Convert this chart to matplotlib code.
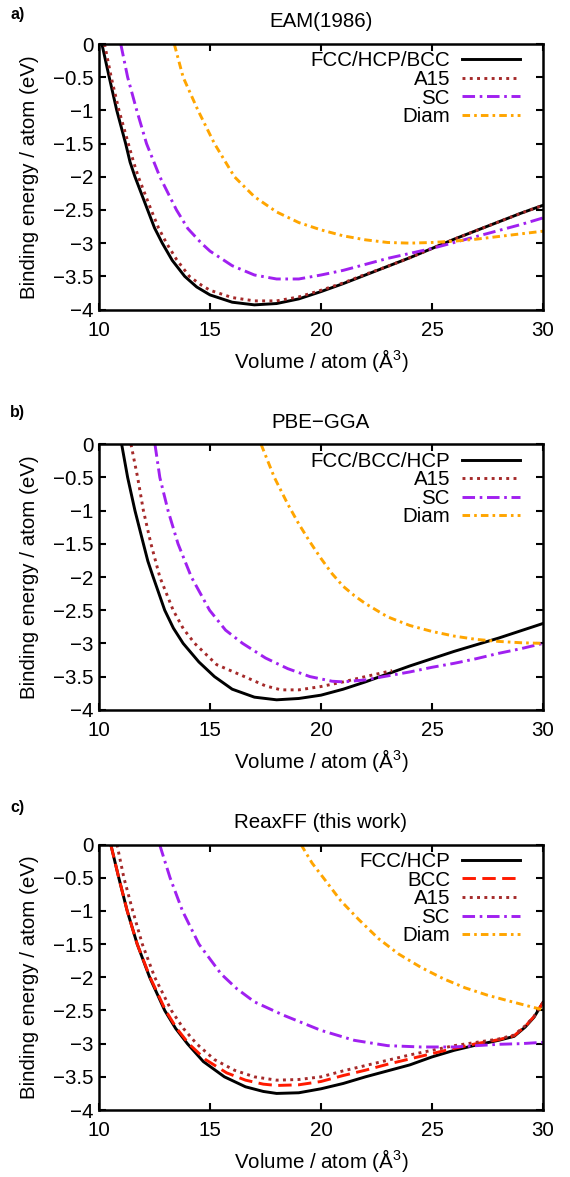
import matplotlib
matplotlib.use('Agg')
import matplotlib.pyplot as plt

# Fonts: Helvetica-like, as in the gnuplot original
plt.rcParams['font.family'] = ['Liberation Sans', 'DejaVu Sans']
plt.rcParams['mathtext.fontset'] = 'custom'
plt.rcParams['mathtext.rm'] = 'Liberation Sans'
plt.rcParams['mathtext.it'] = 'Liberation Sans:italic'

# ---- data (volume in A^3, energy in eV) ----
# a) EAM(1986)
fcc_a_v = [10.13, 10.46, 10.8, 11.2, 11.4, 11.62, 12.19, 12.5, 12.85, 13.3, 13.86, 14.4, 15, 16, 17, 18, 19, 20, 21, 22, 23, 24, 25, 26, 27, 28, 29, 30]
fcc_a_e = [0, -0.5, -1.0, -1.5, -1.78, -2.0, -2.5, -2.77, -3.0, -3.26, -3.5, -3.66, -3.78, -3.89, -3.93, -3.91, -3.84, -3.73, -3.61, -3.48, -3.35, -3.22, -3.08, -2.94, -2.81, -2.68, -2.55, -2.43]
a15_a_v = [10.25, 10.55, 10.9, 11.32, 11.55, 11.77, 12.35, 12.68, 13.04, 13.5, 14.07, 14.6, 15, 16, 17, 18, 19, 20, 21, 22, 23, 24, 25, 26, 27, 28, 29, 30]
a15_a_e = [0, -0.5, -1.0, -1.5, -1.77, -2.0, -2.5, -2.77, -3.0, -3.25, -3.5, -3.63, -3.71, -3.82, -3.87, -3.87, -3.81, -3.71, -3.6, -3.47, -3.35, -3.22, -3.08, -2.94, -2.81, -2.68, -2.55, -2.43]
sc_a_v = [10.98, 11.29, 11.7, 12.14, 12.74, 13.49, 14.0, 14.61, 15, 16, 17, 18, 19, 20, 21, 22, 23, 24, 25, 26, 27, 28, 29, 30]
sc_a_e = [0, -0.5, -1.0, -1.5, -2.0, -2.5, -2.78, -3.0, -3.12, -3.34, -3.48, -3.54, -3.54, -3.48, -3.41, -3.32, -3.23, -3.155, -3.08, -2.99, -2.9, -2.81, -2.72, -2.62]
diam_a_v = [13.39, 13.79, 14.46, 15.2, 16.1, 17, 18, 19, 20, 21, 22, 23, 24, 25, 26, 27, 28, 29, 30]
diam_a_e = [0, -0.5, -1.0, -1.5, -2.0, -2.3, -2.53, -2.69, -2.8, -2.89, -2.95, -2.99, -3.0, -2.99, -2.97, -2.94, -2.9, -2.86, -2.82]

# b) PBE-GGA
fcc_b_v = [11.02, 11.29, 11.62, 12.0, 12.2, 12.44, 12.96, 13.35, 13.79, 14.5, 15.2, 16, 17, 18, 19, 20, 21, 22, 23, 24, 25, 26, 27, 28, 29, 30]
fcc_b_e = [0, -0.5, -1.0, -1.5, -1.76, -2.0, -2.5, -2.77, -3.0, -3.28, -3.5, -3.69, -3.81, -3.85, -3.83, -3.78, -3.69, -3.58, -3.46, -3.34, -3.23, -3.12, -3.02, -2.92, -2.81, -2.7]
a15_b_v = [11.44, 11.74, 12.0, 12.34, 12.74, 13.34, 13.8, 14.31, 15.3, 16.55, 17.5, 18.2, 19, 20, 21, 22, 23.2]
a15_b_e = [0, -0.5, -1.0, -1.5, -2.0, -2.5, -2.78, -3.0, -3.32, -3.5, -3.64, -3.7, -3.7, -3.65, -3.58, -3.5, -3.41]
sc_b_v = [12.52, 12.74, 13.11, 13.56, 14.16, 14.98, 15.7, 16.47, 17.5, 18.5, 19.5, 20.5, 21, 22, 23, 24, 25, 26, 27, 28, 29, 30]
sc_b_e = [0, -0.5, -1.0, -1.5, -2.0, -2.5, -2.8, -3.0, -3.22, -3.38, -3.5, -3.57, -3.58, -3.55, -3.49, -3.43, -3.36, -3.3, -3.23, -3.15, -3.08, -3.0]
diam_b_v = [17.3, 17.6, 17.9, 18.5, 19, 19.5, 20, 20.5, 21, 21.5, 22, 23, 24, 25, 26, 27, 28, 29, 30]
diam_b_e = [0, -0.25, -0.5, -0.9, -1.2, -1.47, -1.72, -1.95, -2.14, -2.28, -2.4, -2.6, -2.73, -2.82, -2.89, -2.94, -2.97, -2.99, -3.0]

# c) ReaxFF (this work)
fcc_c_v = [10.53, 10.89, 11.27, 11.72, 12.28, 12.96, 13.45, 13.98, 14.7, 15.65, 16.6, 17.4, 18, 19, 20, 21, 22, 23, 24, 25, 26, 27, 28, 28.7, 29.2, 29.6, 30]
fcc_c_e = [0, -0.5, -1.0, -1.5, -2.0, -2.5, -2.77, -3.0, -3.27, -3.5, -3.65, -3.72, -3.75, -3.74, -3.68, -3.6, -3.5, -3.41, -3.32, -3.2, -3.1, -3.02, -2.95, -2.89, -2.75, -2.6, -2.38]
bcc_c_v = [10.53, 10.89, 11.27, 11.72, 12.3, 13.0, 13.5, 14.04, 14.8, 15.75, 16.6, 17.4, 18, 19, 20, 21, 22, 23, 24, 25, 26, 27, 28, 28.7, 29.2, 29.6, 30]
bcc_c_e = [0, -0.5, -1.0, -1.5, -2.0, -2.5, -2.77, -3.0, -3.24, -3.44, -3.55, -3.61, -3.63, -3.62, -3.57, -3.48, -3.4, -3.31, -3.23, -3.15, -3.07, -3.0, -2.94, -2.88, -2.74, -2.59, -2.38]
a15_c_v = [10.81, 11.12, 11.52, 11.95, 12.51, 13.26, 13.8, 14.39, 15.2, 16.1, 17, 18, 19, 20, 21, 22, 23, 24, 25, 26, 27, 28, 28.7, 29.2, 29.6, 30]
a15_c_e = [0, -0.5, -1.0, -1.5, -2.0, -2.5, -2.77, -3.0, -3.24, -3.4, -3.5, -3.55, -3.54, -3.5, -3.41, -3.33, -3.25, -3.17, -3.1, -3.03, -2.98, -2.93, -2.87, -2.73, -2.59, -2.38]
sc_c_v = [12.73, 13.2, 13.76, 14.5, 15.5, 16.2, 17.0, 18.3, 20.0, 21.5, 23, 24.5, 26, 27, 28, 29, 30]
sc_c_e = [0, -0.5, -1.0, -1.5, -1.95, -2.17, -2.37, -2.57, -2.8, -2.95, -3.03, -3.05, -3.05, -3.03, -3.01, -3.0, -2.98]
diam_c_v = [19.1, 19.6, 20.15, 20.9, 21.7, 22.6, 23.5, 24.5, 25.5, 26.5, 27.5, 28.5, 29.3, 30]
diam_c_e = [0, -0.28, -0.52, -0.85, -1.13, -1.42, -1.65, -1.85, -2.02, -2.16, -2.27, -2.36, -2.43, -2.49]

titles = ['EAM(1986)', 'PBE\u2212GGA', 'ReaxFF (this work)']
panel_tags = ['a)', 'b)', 'c)']
tag_y = [1.112, 1.118, 1.14]
x_ticks = [10, 15, 20, 25, 30]
y_ticks = [0, -0.5, -1, -1.5, -2, -2.5, -3, -3.5, -4]
y_tick_labels = ['0', '\u22120.5', '\u22121', '\u22121.5', '\u22122', '\u22122.5', '\u22123', '\u22123.5', '\u22124']

# line styles (gnuplot look)
black = '#000000'
red = '#ff1a00'
brown = '#a52a2a'
purple = '#a020f0'
orange = '#ffa500'
lw = 2.1
dotted = (0, (1, 1.5))
dashed = (0, (4.6, 2.2))
dashdot_sc = (0, (4.3, 1.6, 0.9, 1.6))
dashdot_diam = (0, (2.6, 1.4, 0.9, 1.4))

fs = 14.8

fig, axes = plt.subplots(3, 1, figsize=(5.7, 11.77), dpi=100)
plt.subplots_adjust(left=0.1737, right=0.9526, top=0.9626, bottom=0.0569, hspace=0.5076)

# panel a
ax = axes[0]
ax.plot(fcc_a_v, fcc_a_e, color=black, lw=lw, label='FCC/HCP/BCC')
ax.plot(a15_a_v, a15_a_e, color=brown, lw=lw, linestyle=dotted, label='A15')
ax.plot(sc_a_v, sc_a_e, color=purple, lw=lw, linestyle=dashdot_sc, label='SC')
ax.plot(diam_a_v, diam_a_e, color=orange, lw=lw, linestyle=dashdot_diam, label='Diam')

# panel b
ax = axes[1]
ax.plot(fcc_b_v, fcc_b_e, color=black, lw=lw, label='FCC/BCC/HCP')
ax.plot(a15_b_v, a15_b_e, color=brown, lw=lw, linestyle=dotted, label='A15')
ax.plot(sc_b_v, sc_b_e, color=purple, lw=lw, linestyle=dashdot_sc, label='SC')
ax.plot(diam_b_v, diam_b_e, color=orange, lw=lw, linestyle=dashdot_diam, label='Diam')

# panel c
ax = axes[2]
ax.plot(fcc_c_v, fcc_c_e, color=black, lw=lw, label='FCC/HCP')
ax.plot(bcc_c_v, bcc_c_e, color=red, lw=lw, linestyle=dashed, label='BCC')
ax.plot(a15_c_v, a15_c_e, color=brown, lw=lw, linestyle=dotted, label='A15')
ax.plot(sc_c_v, sc_c_e, color=purple, lw=lw, linestyle=dashdot_sc, label='SC')
ax.plot(diam_c_v, diam_c_e, color=orange, lw=lw, linestyle=dashdot_diam, label='Diam')

for ax, title, tag, ty in zip(axes, titles, panel_tags, tag_y):
    ax.set_xlim(10, 30)
    ax.set_ylim(-4, 0)
    ax.set_xticks(x_ticks)
    ax.set_yticks(y_ticks)
    ax.set_yticklabels(y_tick_labels)
    ax.tick_params(direction='in', length=5, width=1.5, top=True, right=True,
                   labelsize=fs, pad=4)
    ax.tick_params(axis='x', pad=8)
    for s in ax.spines.values():
        s.set_linewidth(1.8)
    ax.set_title(title, fontsize=fs, pad=12)
    ax.set_xlabel('Volume / atom (\u00c5$^{3}$)', fontsize=fs, labelpad=5)
    ax.set_ylabel('Binding energy / atom (eV)', fontsize=fs, labelpad=10)
    ax.text(-0.2, ty, tag, transform=ax.transAxes, fontsize=11.5,
            fontweight='bold', ha='left', va='center')
    ax.legend(loc='upper right', bbox_to_anchor=(0.948, 0.972), frameon=False,
              markerfirst=False, alignment='right', fontsize=fs,
              handlelength=2.8, handletextpad=0.6, labelspacing=-0.02,
              borderpad=0, borderaxespad=0)

plt.savefig('out.png', dpi=100)
